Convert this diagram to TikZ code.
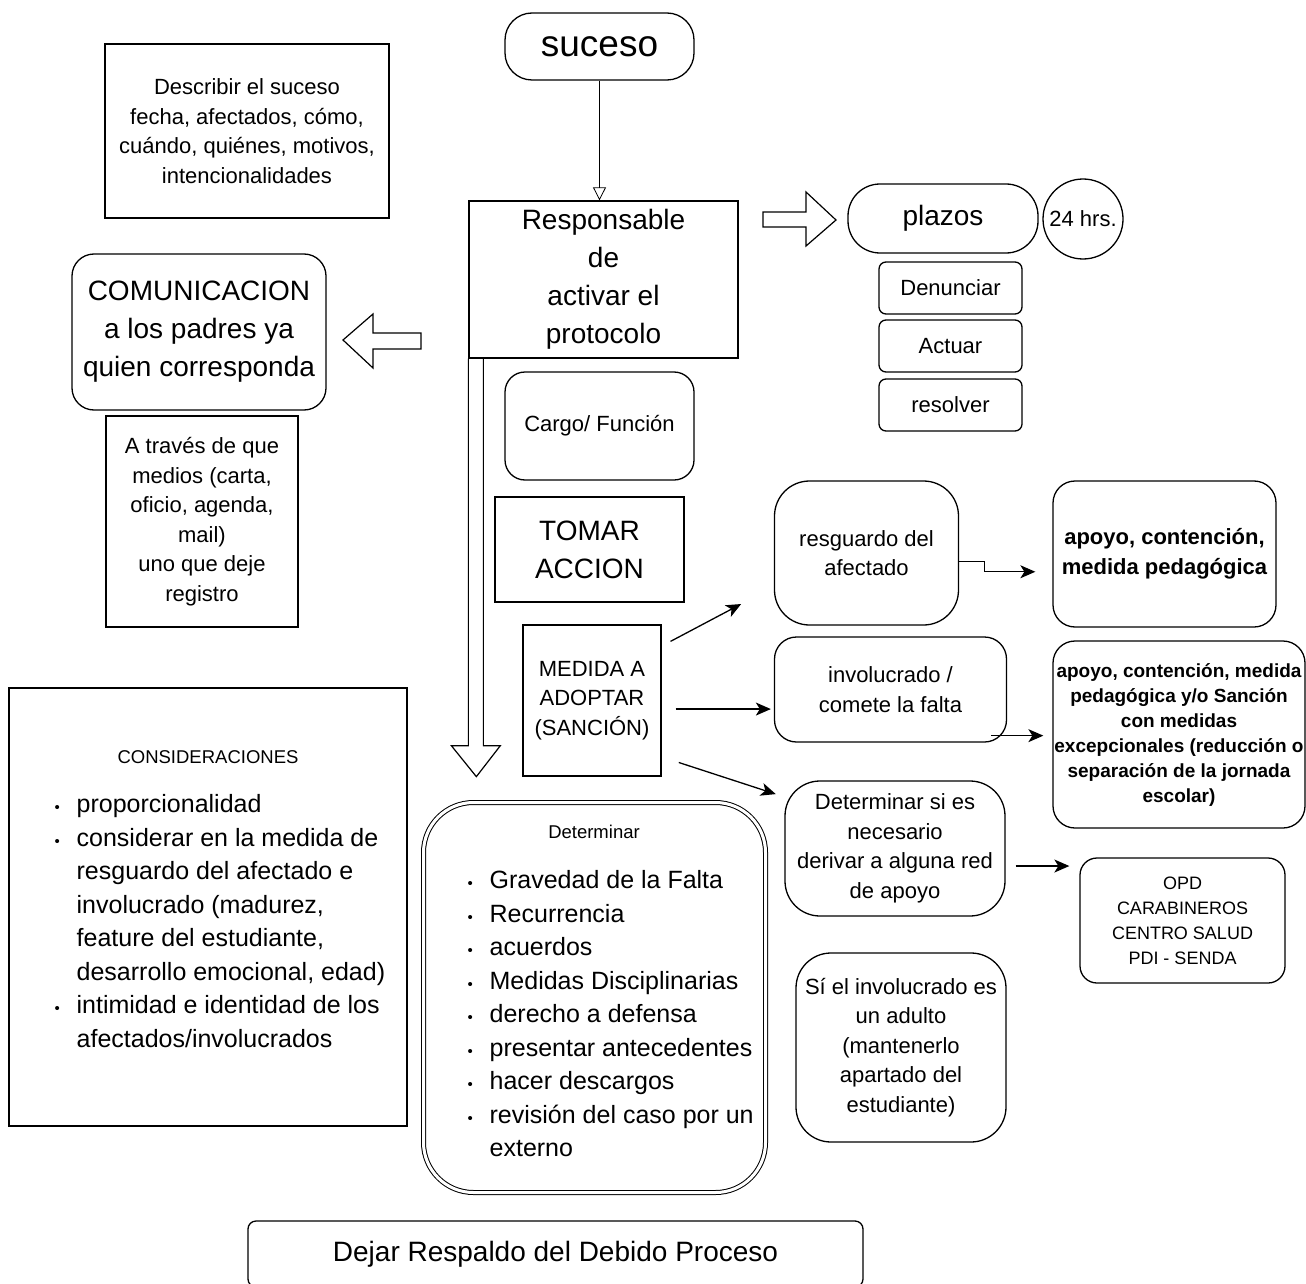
\documentclass[tikz,border=0pt]{standalone}
\usepackage{fontspec}
\setmainfont{Liberation Sans}
\usetikzlibrary{arrows.meta}
\newcommand{\itm}{\makebox[22pt][l]{\fontsize{15}{15}\selectfont\textbullet}}
\begin{document}
\begin{tikzpicture}[x=1pt,y=-1pt,line width=1.3pt,
  box/.style={draw,inner sep=0pt,align=center},
  rbox/.style={box,rounded corners=#1},
  huge/.style={font=\fontsize{37}{44}\selectfont},
  big/.style={font=\fontsize{28}{38}\selectfont},
  mid/.style={font=\fontsize{22}{29.5}\selectfont},
  midb/.style={font=\fontsize{22}{30}\selectfont\bfseries},
  smb/.style={font=\fontsize{19}{25}\selectfont\bfseries},
  sm/.style={font=\fontsize{18.5}{25}\selectfont},
  list/.style={font=\fontsize{25}{33.5}\selectfont,anchor=north west,inner sep=0pt},
  arr/.style={-{Stealth[length=15pt,width=13pt,inset=4pt]}},
  blockarr/.style={line width=1.2pt,line join=miter}]
\useasboundingbox (0,0) rectangle (1306,1284);

\node[rbox=27pt,huge,minimum width=189pt,minimum height=67pt] (suceso) at (599.5,46.5) {suceso};
\node[box,mid,minimum width=284pt,minimum height=174pt] (desc) at (247,131) {Describir el suceso\\fecha, afectados, cómo,\\cuándo, quiénes, motivos,\\intencionalidades};
\node[box,big,minimum width=269pt,minimum height=157pt] (resp) at (603.5,279.5) {Responsable\\de\\activar el\\protocolo};
\node[rbox=22pt,big,minimum width=254pt,minimum height=156pt] (comun) at (199,332) {COMUNICACION\\a los padres ya\\quien corresponda};
\node[box,mid,minimum width=192pt,minimum height=211pt] (medios) at (202,521.5) {A través de que\\medios (carta,\\oficio, agenda,\\mail)\\uno que deje\\registro};

\node[rbox=32pt,big,minimum width=190pt,minimum height=69pt] (plazos) at (943,218.5) {plazos};
\node[draw,circle,mid,inner sep=0pt,minimum size=80pt] (hrs) at (1083,219) {24 hrs.};
\foreach \nm/\txt/\yy in {denun/Denunciar/288,actuar/Actuar/346,resol/resolver/405}
  \node[rbox=7pt,mid,minimum width=143pt,minimum height=52pt] (\nm) at (950.5,\yy) {\txt};

\node[rbox=20pt,mid,minimum width=189pt,minimum height=108pt] (cargo) at (599.5,426) {Cargo/ Función};
\node[box,big,minimum width=189pt,minimum height=105pt] (tomar) at (589.5,549.5) {TOMAR\\ACCION};
\node[box,mid,minimum width=138pt,minimum height=151pt] (medida) at (592,700.5) {MEDIDA A\\ADOPTAR\\(SANCIÓN)};

\node[rbox=35pt,mid,minimum width=184pt,minimum height=144pt] (resg) at (866.5,553) {resguardo del\\afectado};
\node[rbox=22pt,midb,minimum width=223pt,minimum height=146pt] (apoyo) at (1164.5,554) {apoyo, contención,\\medida pedagógica};
\node[rbox=22pt,mid,minimum width=232pt,minimum height=105pt] (invol) at (890.5,689.5) {involucrado /\\comete la falta};
\node[rbox=22pt,smb,minimum width=252pt,minimum height=187pt] (sanc) at (1179,734.5) {apoyo, contención, medida\\pedagógica y/o Sanción\\con medidas\\excepcionales (reducción o\\separación de la jornada\\escolar)};
\node[rbox=35pt,mid,minimum width=220pt,minimum height=135pt] (deriv) at (895,848.5) {Determinar si es\\necesario\\derivar a alguna red\\de apoyo};
\node[rbox=17pt,font=\fontsize{18}{25}\selectfont,minimum width=205pt,minimum height=125pt] (opd) at (1182.5,920.5) {OPD\\CARABINEROS\\CENTRO SALUD\\PDI - SENDA};
\node[rbox=35pt,mid,minimum width=210pt,minimum height=189pt] (adulto) at (901,1047.5) {Sí el involucrado es\\un adulto\\(mantenerlo\\apartado del\\estudiante)};

% Determinar
\node[rbox=50pt,double,double distance=3pt,line width=1pt,minimum width=342pt,minimum height=390pt] (determ) at (594.5,997.5) {};
\node[sm] (determh) at (594,832) {Determinar};
\node[list] (determl) at (467,864.5) {\begin{tabular}{@{}l@{}l@{}}
\itm & Gravedad de la Falta\\
\itm & Recurrencia\\
\itm & acuerdos\\
\itm & Medidas Disciplinarias\\
\itm & derecho a defensa\\
\itm & presentar antecedentes\\
\itm & hacer descargos\\
\itm & revisión del caso por un\\
 & externo
\end{tabular}};

% CONSIDERACIONES
\node[box,minimum width=398pt,minimum height=438pt] (consid) at (208,907) {};
\node[sm] (considh) at (208,757) {CONSIDERACIONES};
\node[list] (considl) at (54,788.5) {\begin{tabular}{@{}l@{}l@{}}
\itm & proporcionalidad\\
\itm & considerar en la medida de\\
 & resguardo del afectado e\\
 & involucrado (madurez,\\
 & feature del estudiante,\\
 & desarrollo emocional, edad)\\
\itm & intimidad e identidad de los\\
 & afectados/involucrados
\end{tabular}};

\node[rbox=8pt,big,minimum width=615pt,minimum height=66pt] (dejar) at (555.5,1254) {Dejar Respaldo del Debido Proceso};

\draw[line width=0.8pt,-{Triangle[open,length=13pt,width=13pt]}] (suceso.south) -- (suceso.south |- resp.north);

\draw[blockarr] (763,212) -- (806,212) -- (806,192) -- (836,220) -- (806,246) -- (806,227) -- (763,227) -- cycle;
\draw[blockarr] (421,333) -- (373,333) -- (373,314) -- (343,340) -- (373,368) -- (373,349) -- (421,349) -- cycle;
\draw[blockarr] (resp.south west) -- ++(0,387) -- ++(-17,0) -- ++(25,31) -- ++(24,-31) -- ++(-17,0) -- ++(0,-387);

\draw[arr,shorten <=10pt,shorten >=37pt] (medida.38) -- (resg.200);
\draw[arr,shorten <=14pt,shorten >=3pt] (medida.-7) -- (medida.-7 -| invol.west);
\draw[arr,shorten <=18pt,shorten >=9pt] (medida.-39) -- (deriv.155);
\draw[arr,line width=1.2pt,shorten >=17pt] (resg.-5) -- ++(25,0) |- (apoyo.189);
\coordinate (invfree) at ([xshift=-16pt,yshift=7pt]invol.south east);
\draw[arr,shorten >=9pt] (invfree) -- (invfree -| sanc.west);
\draw[arr,shorten <=10pt,shorten >=10pt] (deriv.-9) -- (deriv.-9 -| opd.west);
\end{tikzpicture}
\end{document}
